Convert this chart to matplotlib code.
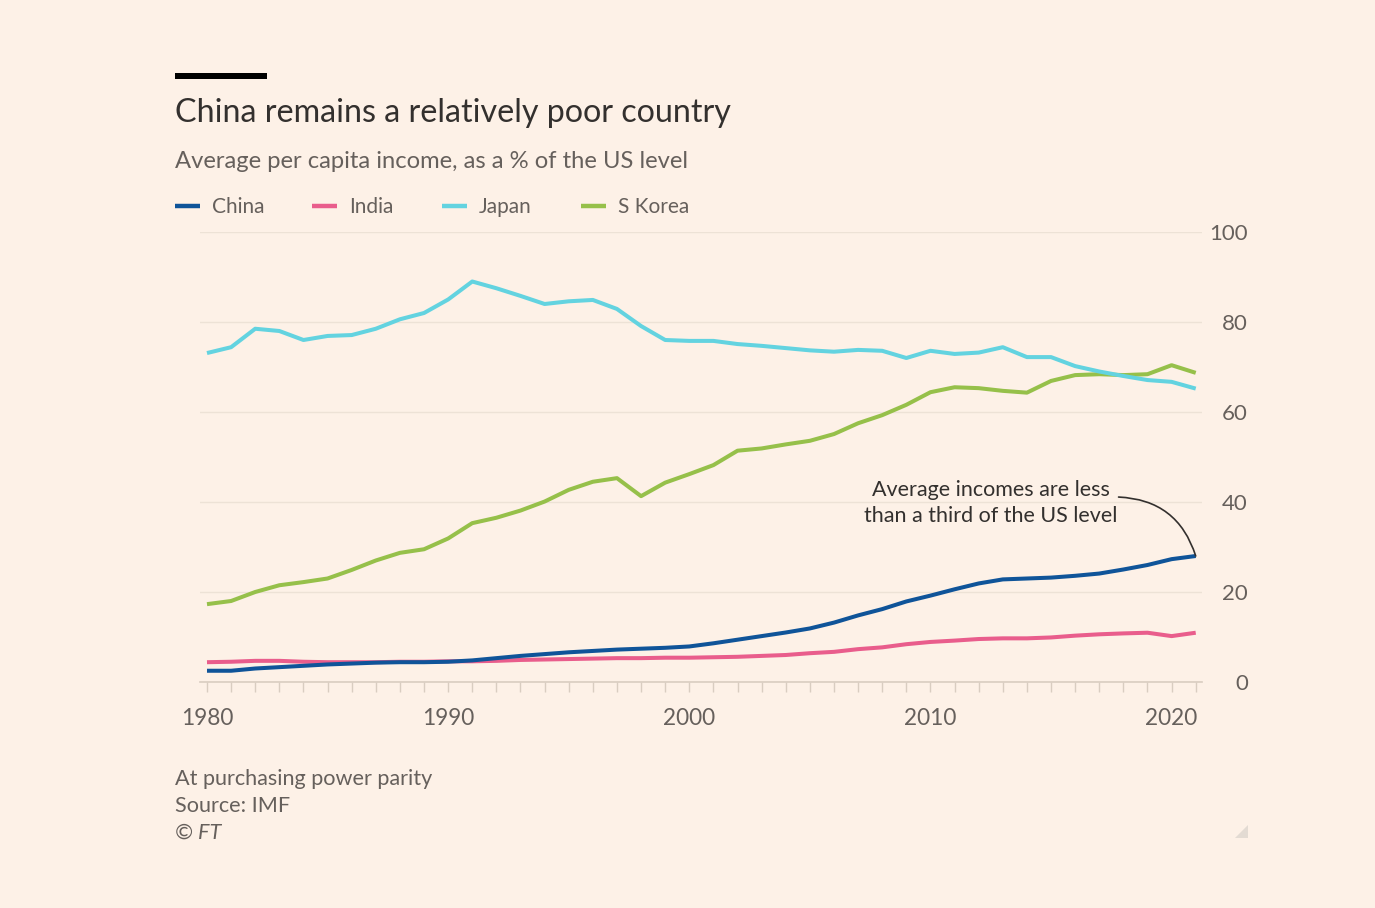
import matplotlib
matplotlib.use("Agg")
import matplotlib.pyplot as plt
from matplotlib.patches import Polygon

plt.rcParams['font.family'] = ['Lato', 'DejaVu Sans']

years = list(range(1980, 2022))

china = [2.5, 2.5, 3.0, 3.3, 3.6, 3.9, 4.1, 4.3, 4.4, 4.4, 4.5, 4.8, 5.3, 5.8, 6.2,
         6.6, 6.9, 7.2, 7.4, 7.6, 7.9, 8.6, 9.4, 10.2, 11.0, 11.9, 13.2, 14.8, 16.2,
         17.9, 19.2, 20.6, 21.9, 22.8, 23.0, 23.2, 23.6, 24.1, 25.0, 26.0, 27.3, 28.0]
india = [4.4, 4.5, 4.7, 4.7, 4.5, 4.4, 4.4, 4.4, 4.5, 4.5, 4.6, 4.6, 4.7, 4.9, 5.0,
         5.1, 5.2, 5.3, 5.3, 5.4, 5.4, 5.5, 5.6, 5.8, 6.0, 6.4, 6.7, 7.3, 7.7,
         8.4, 8.9, 9.2, 9.55, 9.7, 9.7, 9.9, 10.3, 10.6, 10.8, 10.95, 10.2, 10.95]
japan = [73.1, 74.4, 78.5, 78.0, 76.0, 76.9, 77.1, 78.5, 80.6, 82.0, 85.0, 89.0, 87.5,
         85.8, 84.0, 84.6, 84.9, 82.9, 79.1, 76.0, 75.8, 75.8, 75.1, 74.7, 74.2, 73.7,
         73.4, 73.8, 73.6, 72.0, 73.6, 72.9, 73.2, 74.4, 72.2, 72.2, 70.2, 69.0, 68.0,
         67.1, 66.7, 65.2]
skorea = [17.3, 18.0, 20.0, 21.5, 22.2, 23.0, 24.9, 27.0, 28.7, 29.5, 31.9, 35.3, 36.5,
          38.1, 40.1, 42.7, 44.5, 45.3, 41.3, 44.3, 46.2, 48.2, 51.4, 51.9, 52.8, 53.6,
          55.1, 57.5, 59.3, 61.6, 64.4, 65.5, 65.3, 64.7, 64.3, 66.9, 68.2, 68.4, 68.2,
          68.4, 70.4, 68.7]

series_names = ['China', 'India', 'Japan', 'S Korea']
colors = ['#0F5499', '#E95D8C', '#63D3E0', '#96C04A']
y_ticks = [0, 20, 40, 60, 80, 100]
x_ticks = [1980, 1990, 2000, 2010, 2020]

BG = '#FDF1E7'
TEXT_DARK = '#33302E'
TEXT_GREY = '#66605C'
GRID = '#EDE2D6'
AXIS = '#D9CDC1'

W, H = 1375, 908
fig = plt.figure(figsize=(W / 100, H / 100), dpi=100)
fig.patch.set_facecolor(BG)

def fx(px):
    return px / W

def fy(py):
    return 1 - py / H

ax = fig.add_axes([fx(200), fy(682), fx(1202) - fx(200), fy(232) - fy(682)])
ax.set_facecolor(BG)

for data, c in zip([skorea, japan, india, china], [colors[3], colors[2], colors[1], colors[0]]):
    ax.plot(years, data, color=c, lw=2.9, solid_capstyle='butt', solid_joinstyle='round', zorder=3)

ax.set_xlim(1979.71, 2021.26)
ax.set_ylim(0, 100)

for s in ['top', 'left', 'right']:
    ax.spines[s].set_visible(False)
ax.spines['bottom'].set_color(AXIS)
ax.spines['bottom'].set_linewidth(1.2)

ax.yaxis.tick_right()
ax.set_yticks(y_ticks)
ax.set_yticklabels([str(v) for v in y_ticks])
ax.tick_params(axis='y', length=0, pad=33, labelsize=16, labelcolor=TEXT_GREY)
for lab in ax.get_yticklabels():
    lab.set_horizontalalignment('right')
ax.grid(axis='y', color=GRID, lw=1.0, zorder=0)
ax.set_axisbelow(True)

ax.set_xticks(years, minor=True)
ax.set_xticks(x_ticks)
ax.set_xticklabels([str(v) for v in x_ticks])
ax.tick_params(axis='x', which='both', length=7, width=1.0, color=AXIS, direction='out')
ax.tick_params(axis='x', which='major', pad=12, labelsize=16.3, labelcolor=TEXT_GREY)

# annotation
ax.text(2012.5, 39.75, 'Average incomes are less\nthan a third of the US level',
        ha='center', va='center', fontsize=15.5, color=TEXT_DARK, linespacing=1.42, zorder=4)
ax.annotate('', xy=(2021, china[-1]), xytext=(2017.8, 41.1),
            arrowprops=dict(arrowstyle='-', color=TEXT_DARK, lw=1.2,
                            connectionstyle='arc3,rad=-0.35', shrinkA=0, shrinkB=0), zorder=4)

# top bar
fig.patches.append(Polygon([[fx(175), fy(73)], [fx(267), fy(73)], [fx(267), fy(78.5)], [fx(175), fy(78.5)]],
                           closed=True, transform=fig.transFigure, facecolor='black', edgecolor='none'))

fig.text(fx(175), fy(122), 'China remains a relatively poor country', fontsize=23.2,
         color=TEXT_DARK, va='baseline', ha='left')
fig.text(fx(175), fy(168), 'Average per capita income, as a % of the US level', fontsize=17.1,
         color=TEXT_GREY, va='baseline', ha='left')

# legend
leg_line_x = [175, 312, 442, 581]
for name, c, lx in zip(series_names, colors, leg_line_x):
    fig.lines.append(plt.Line2D([fx(lx), fx(lx + 25)], [fy(206), fy(206)], transform=fig.transFigure,
                                color=c, lw=3.2, solid_capstyle='butt'))
    fig.text(fx(lx + 37), fy(213), name, fontsize=15, color=TEXT_GREY, va='baseline', ha='left')

# footer
fig.text(fx(175), fy(785), 'At purchasing power parity', fontsize=15.6, color=TEXT_GREY, va='baseline')
fig.text(fx(175), fy(812), 'Source: IMF', fontsize=15.6, color=TEXT_GREY, va='baseline')
fig.text(fx(175), fy(839), '© FT', fontsize=15.6, color=TEXT_GREY, va='baseline', style='italic')

# resize handle glyph
fig.patches.append(Polygon([[fx(1248), fy(825)], [fx(1248), fy(838)], [fx(1235), fy(838)]],
                           closed=True, transform=fig.transFigure, facecolor='#E3DBD3', edgecolor='none'))

fig.savefig('out.png', dpi=100, facecolor=BG)
